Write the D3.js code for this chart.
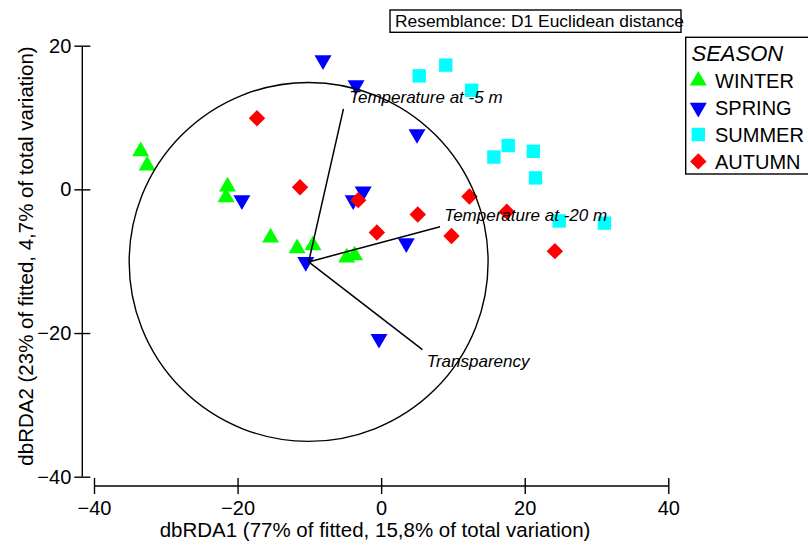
<!DOCTYPE html>
<html>
<head>
<meta charset="utf-8">
<script src="https://cdn.jsdelivr.net/npm/d3@7/dist/d3.min.js"></script>
<style>
  html, body { margin: 0; padding: 0; background: #fff; }
  svg { display: block; font-family: "Liberation Sans", Arial, sans-serif; }
</style>
</head>
<body>
<svg id="chart" width="808" height="545"></svg>
<script>
// dbRDA ordination scores per sample, grouped by season
const winterX = [-33.5, -32.6, -21.4, -21.6, -15.4, -11.7, -9.5, -4.8, -3.7];
const winterY = [5.3, 3.3, 0.4, -1.1, -6.7, -8.2, -7.8, -9.5, -9.2];
const springX = [-8.1, -3.5, 5.0, -19.4, -2.5, -3.9, -10.5, 3.5, -0.3];
const springY = [18.0, 14.5, 7.7, -1.5, -0.3, -1.5, -10.1, -7.5, -20.8];
const summerX = [5.3, 9.0, 12.6, 15.7, 17.7, 21.2, 21.5, 24.8, 31.1];
const summerY = [15.8, 17.3, 13.8, 4.5, 6.1, 5.3, 1.6, -4.4, -4.7];
const autumnX = [-17.3, -11.3, -3.2, 12.3, 5.1, -0.6, 9.8, 17.5, 24.2];
const autumnY = [9.9, 0.3, -1.5, -1.0, -3.5, -6.0, -6.5, -3.1, -8.6];

const seasons = ["WINTER", "SPRING", "SUMMER", "AUTUMN"];
const seasonX = [winterX, springX, summerX, autumnX];
const seasonY = [winterY, springY, summerY, autumnY];

// Predictor vectors (drawn from a common origin) and correlation circle
const vectorNames = ["Temperature at -5 m", "Temperature at -20 m", "Transparency"];
const vectorEndX = [-5.25, 8.2, 5.75];
const vectorEndY = [11.2, -5.2, -22.3];
const vectorOrigin = [-10.1, -10.1];
const circleRadius = 25;

const xTicks = [-40, -20, 0, 20, 40];
const yTicks = [-40, -20, 0, 20];

const xTitle = "dbRDA1 (77% of fitted, 15,8% of total variation)";
const yTitle = "dbRDA2 (23% of fitted, 4,7% of total variation)";
const resemblance = "Resemblance: D1 Euclidean distance";
const legendTitle = "SEASON";

const colors = ["#00ff00", "#0000ff", "#00ffff", "#ff0000"];

const svg = d3.select("#chart");

const x = d3.scaleLinear().domain([-40, 40]).range([94, 668.3]);
const y = d3.scaleLinear().domain([-40, 20]).range([476.7, 45.7]);
const yAxisX = 82.3;
const xAxisY = 486;

// symbol generators
const triUp = d3.symbol().type(d3.symbolTriangle).size(125);
const square = d3.symbol().type(d3.symbolSquare).size(180);
const diamond = d3.symbol().type(d3.symbolSquare).size(135);
function shapeFor(i) {
  if (i === 0) return { d: triUp(), rot: 0 };
  if (i === 1) return { d: triUp(), rot: 180 };
  if (i === 2) return { d: square(), rot: 0 };
  return { d: diamond(), rot: 45 };
}

// sample points
const pts = svg.append("g");
seasons.forEach((s, i) => {
  const sh = shapeFor(i);
  const data = seasonX[i].map((v, j) => ({ x: v, y: seasonY[i][j] }));
  pts.selectAll(null).data(data).join("path")
    .attr("d", sh.d)
    .attr("transform", d => `translate(${x(d.x)},${y(d.y)}) rotate(${sh.rot})`)
    .attr("fill", colors[i]);
});

// correlation circle
const pxPerUnit = x(1) - x(0);
svg.append("circle")
  .attr("cx", x(vectorOrigin[0])).attr("cy", y(vectorOrigin[1]))
  .attr("r", circleRadius * pxPerUnit)
  .attr("fill", "none").attr("stroke", "#000").attr("stroke-width", 1.4);

// vectors
const vec = svg.append("g");
vectorNames.forEach((n, i) => {
  vec.append("line")
    .attr("x1", x(vectorOrigin[0])).attr("y1", y(vectorOrigin[1]))
    .attr("x2", x(vectorEndX[i])).attr("y2", y(vectorEndY[i]))
    .attr("stroke", "#000").attr("stroke-width", 1.5);
});
const labelOffsets = [[5.7, -5.7], [4.3, -5.7], [4.4, 17.4]];
vectorNames.forEach((n, i) => {
  vec.append("text")
    .attr("x", x(vectorEndX[i]) + labelOffsets[i][0])
    .attr("y", y(vectorEndY[i]) + labelOffsets[i][1])
    .attr("font-size", 17).attr("font-style", "italic")
    .text(n);
});

// axes with ticks crossing the line
const yAxis = svg.append("g").attr("transform", `translate(${yAxisX},0)`)
  .call(d3.axisLeft(y).tickValues(yTicks).tickSize(8).tickPadding(3).tickSizeOuter(0));
yAxis.select(".domain").attr("d", `M0,${y(20)}V${y(-40)}`).attr("stroke-width", 1.4);
yAxis.selectAll(".tick line").attr("x1", -8).attr("x2", 8).attr("stroke-width", 1.4);
yAxis.selectAll(".tick text").attr("x", -11).attr("font-size", 20).attr("fill", "#000")
  .attr("font-family", "Liberation Sans, Arial, sans-serif");

const xAxis = svg.append("g").attr("transform", `translate(0,${xAxisY})`)
  .call(d3.axisBottom(x).tickValues(xTicks).tickSize(8).tickSizeOuter(0));
xAxis.select(".domain").attr("d", `M${x(-40)},0H${x(40)}`).attr("stroke-width", 1.4);
xAxis.selectAll(".tick line").attr("y1", -8).attr("y2", 8).attr("stroke-width", 1.4);
xAxis.selectAll(".tick text").attr("y", 29).attr("dy", 0).attr("font-size", 20).attr("fill", "#000")
  .attr("font-family", "Liberation Sans, Arial, sans-serif");

// axis titles
svg.append("text").attr("x", 375).attr("y", 537).attr("text-anchor", "middle")
  .attr("font-size", 20.5).text(xTitle);
svg.append("text").attr("transform", "translate(33,256) rotate(-90)")
  .attr("text-anchor", "middle").attr("font-size", 20.5).text(yTitle);

// resemblance box
svg.append("rect").attr("x", 390).attr("y", 10).attr("width", 291).attr("height", 22.3)
  .attr("fill", "none").attr("stroke", "#000").attr("stroke-width", 1.4);
svg.append("text").attr("x", 395).attr("y", 27).attr("font-size", 17.4).text(resemblance);

// legend
const lg = svg.append("g");
lg.append("rect").attr("x", 685.7).attr("y", 37.3).attr("width", 130).attr("height", 136.7)
  .attr("fill", "#fff").attr("stroke", "#000").attr("stroke-width", 1.4);
lg.append("text").attr("x", 691.5).attr("y", 61).attr("font-size", 22).attr("font-style", "italic")
  .text(legendTitle);
seasons.forEach((s, i) => {
  const cy = 80.7 + i * 26.9;
  const sh = shapeFor(i);
  lg.append("path").attr("d", sh.d)
    .attr("transform", `translate(698.3,${cy}) rotate(${sh.rot})`)
    .attr("fill", colors[i]);
  lg.append("text").attr("x", 715).attr("y", cy + 7.5).attr("font-size", 20).text(s);
});
</script>
</body>
</html>
